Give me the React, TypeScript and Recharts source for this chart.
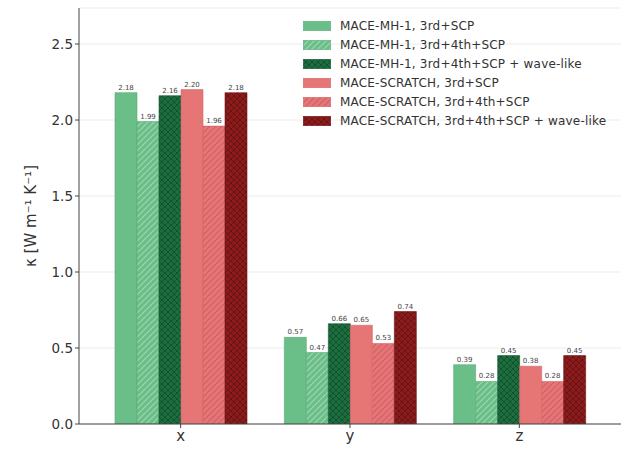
import React from 'react';
import { BarChart, Bar, XAxis, YAxis, CartesianGrid, LabelList } from 'recharts';

const categories = ['x', 'y', 'z'];
const mh3 = [2.18, 0.57, 0.39];
const mh34 = [1.99, 0.47, 0.28];
const mhWave = [2.16, 0.66, 0.45];
const sc3 = [2.2, 0.65, 0.38];
const sc34 = [1.96, 0.53, 0.28];
const scWave = [2.18, 0.74, 0.45];
const yTicks = [0, 0.5, 1.0, 1.5, 2.0, 2.5];

const seriesNames = [
  'MACE-MH-1, 3rd+SCP',
  'MACE-MH-1, 3rd+4th+SCP',
  'MACE-MH-1, 3rd+4th+SCP + wave-like',
  'MACE-SCRATCH, 3rd+SCP',
  'MACE-SCRATCH, 3rd+4th+SCP',
  'MACE-SCRATCH, 3rd+4th+SCP + wave-like',
];
const seriesKeys = ['mh3', 'mh34', 'mhWave', 'sc3', 'sc34', 'scWave'];
const seriesFills = [
  '#6abf88',
  'url(#hatchGreen)',
  'url(#crossGreen)',
  '#e67676',
  'url(#hatchRed)',
  'url(#crossRed)',
];
const seriesEdges = ['#5aa877', '#5aa877', '#175c34', '#d06464', '#d06464', '#741515'];

const data = categories.map((c, i) => ({
  cat: c,
  mh3: mh3[i],
  mh34: mh34[i],
  mhWave: mhWave[i],
  sc3: sc3[i],
  sc34: sc34[i],
  scWave: scWave[i],
}));

const ValueLabel = (props: any) => {
  const { x, y, width, value } = props;
  const cx = x + width / 2;
  const txt = Number(value).toFixed(2);
  return (
    <g>
      <rect x={cx - 8} y={y - 10} width={16} height={9} fill="#ffffff" />
      <text x={cx} y={y - 3} textAnchor="middle" fontSize={7} fill="#444" fontFamily="DejaVu Sans">
        {txt}
      </text>
    </g>
  );
};

const LegendBox = () => (
  <div
    style={{
      position: 'absolute',
      left: 303,
      top: 16,
      fontFamily: 'DejaVu Sans',
      fontSize: 12,
      letterSpacing: 0.2,
      color: '#333',
    }}
  >
    {seriesNames.map((n, i) => (
      <div key={n} style={{ display: 'flex', alignItems: 'center', height: 19 }}>
        <svg width={28} height={10} style={{ marginRight: 9, flex: 'none' }}>
          <rect x={0.25} y={0.25} width={27.5} height={9.5} fill={seriesFills[i]} stroke={seriesEdges[i]} strokeWidth={0.5} />
        </svg>
        <span style={{ whiteSpace: 'nowrap' }}>{n}</span>
      </div>
    ))}
  </div>
);

export default function App() {
  return (
    <div style={{ position: 'absolute', left: 0, top: 0, width: 631, height: 454, background: '#fff' }}>
      <BarChart
        width={631}
        height={454}
        data={data}
        margin={{ top: 8, right: 10, bottom: 0, left: 0 }}
        barGap={0}
        barSize={22}
      >
        <defs>
          <pattern id="hatchGreen" patternUnits="userSpaceOnUse" width={6} height={6}>
            <rect width={6} height={6} fill="#6abf88" />
            <path d="M-1,1 L1,-1 M0,6 L6,0 M5,7 L7,5" stroke="#9fd6b1" strokeWidth={1.1} />
          </pattern>
          <pattern id="crossGreen" patternUnits="userSpaceOnUse" width={6} height={6}>
            <rect width={6} height={6} fill="#1c6e3f" />
            <path d="M-1,1 L1,-1 M0,6 L6,0 M5,7 L7,5 M-1,5 L1,7 M0,0 L6,6 M5,-1 L7,1" stroke="#124f2c" strokeWidth={0.9} />
          </pattern>
          <pattern id="hatchRed" patternUnits="userSpaceOnUse" width={6} height={6}>
            <rect width={6} height={6} fill="#e67676" />
            <path d="M-1,1 L1,-1 M0,6 L6,0 M5,7 L7,5" stroke="#cf5c66" strokeWidth={1.1} />
          </pattern>
          <pattern id="crossRed" patternUnits="userSpaceOnUse" width={6} height={6}>
            <rect width={6} height={6} fill="#8c1b1b" />
            <path d="M-1,1 L1,-1 M0,6 L6,0 M5,7 L7,5 M-1,5 L1,7 M0,0 L6,6 M5,-1 L7,1" stroke="#661213" strokeWidth={0.9} />
          </pattern>
        </defs>
        <CartesianGrid horizontal={true} vertical={false} stroke="#ececec" />
        <XAxis
          dataKey="cat"
          height={30}
          padding={{ left: 17, right: 17 }}
          tick={{ fontSize: 15, fill: '#333', fontFamily: 'DejaVu Sans' }}
          tickLine={{ stroke: '#444' }}
          axisLine={{ stroke: '#444' }}
          tickSize={4}
        />
        <XAxis xAxisId="top" dataKey="cat" orientation="top" height={0} tick={false} tickLine={false} axisLine={{ stroke: '#444' }} />
        <YAxis
          width={79}
          domain={[0, 2.737]}
          ticks={yTicks}
          tickFormatter={(v: number) => v.toFixed(1)}
          tick={{ fontSize: 13.5, fill: '#333', fontFamily: 'DejaVu Sans' }}
          tickLine={{ stroke: '#444' }}
          axisLine={{ stroke: '#444' }}
          tickSize={4}
          allowDataOverflow={true}
        />
        <YAxis yAxisId="right" orientation="right" width={0} tick={false} tickLine={false} axisLine={{ stroke: '#444' }} />
        {seriesKeys.map((k, i) => (
          <Bar
            key={k}
            dataKey={k}
            name={seriesNames[i]}
            fill={seriesFills[i]}
            stroke={seriesEdges[i]}
            strokeWidth={0.6}
            isAnimationActive={false}
          >
            <LabelList dataKey={k} content={<ValueLabel />} />
          </Bar>
        ))}
        <text
          x={31}
          y={216}
          transform="rotate(-90 31 216)"
          textAnchor="middle"
          dominantBaseline="central"
          fontSize={15}
          fill="#333"
          fontFamily="DejaVu Sans"
        >
          κ [W m⁻¹ K⁻¹]
        </text>
      </BarChart>
      <LegendBox />
    </div>
  );
}
